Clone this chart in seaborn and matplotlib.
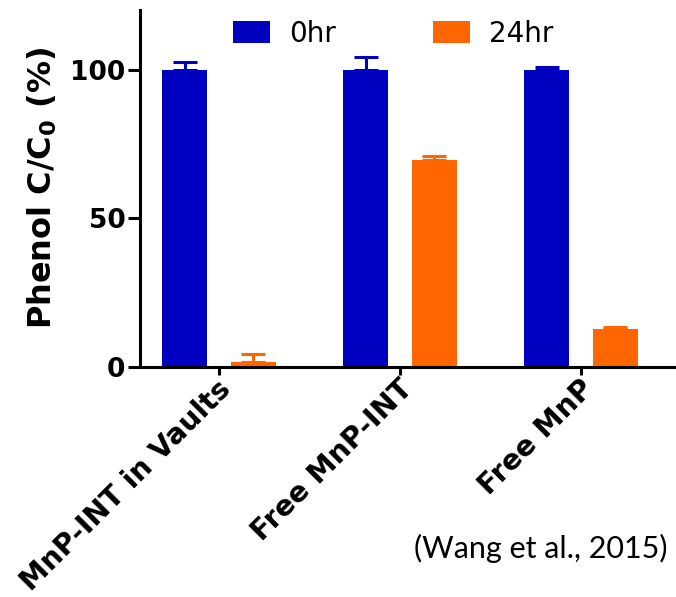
import matplotlib
matplotlib.use("Agg")
import matplotlib.pyplot as plt
import matplotlib.transforms as mtransforms
import seaborn as sns
import pandas as pd
import numpy as np

categories = ["MnP-INT in Vaults", "Free MnP-INT", "Free MnP"]
series_names = ["0hr", "24hr"]
values_0hr = [100.0, 100.0, 100.0]
values_24hr = [1.8, 69.5, 12.7]
err_0hr = [2.4, 4.3, 0.7]
err_24hr = [2.6, 1.3, 0.9]
colors = ["#0000C0", "#FF6600"]
yticks = [0, 50, 100]

sns.set_theme(style="ticks")
plt.rcParams["font.family"] = ["DejaVu Sans"]
plt.rcParams["mathtext.fontset"] = "dejavusans"
plt.rcParams["mathtext.default"] = "bf"
for k in ["text.color", "axes.labelcolor", "xtick.color", "ytick.color", "axes.edgecolor"]:
    plt.rcParams[k] = "black"

df = pd.DataFrame({
    "category": categories * 2,
    "series": [series_names[0]] * 3 + [series_names[1]] * 3,
    "value": values_0hr + values_24hr,
    "err": err_0hr + err_24hr,
})

fig = plt.figure(figsize=(6.76, 5.97), dpi=100)
ax = fig.add_axes([140 / 676, 1 - 367 / 597, 1 - 140 / 676, (367 - 10) / 597])

sns.barplot(data=df, x="category", y="value", hue="series", order=categories,
            hue_order=series_names, palette=colors, saturation=1, width=0.76,
            gap=0.34, errorbar=None, linewidth=0, ax=ax)

# upward-only error bars in series colour
for cont, name, col in zip(ax.containers, series_names, colors):
    sub = df[df["series"] == name].set_index("category").loc[categories]
    xs = [p.get_x() + p.get_width() / 2 for p in cont.patches]
    ys = sub["value"].to_numpy()
    es = sub["err"].to_numpy()
    ax.errorbar(xs, ys, yerr=[np.zeros_like(es), es], fmt="none", ecolor=col,
                elinewidth=2.2, capsize=8.5, capthick=2.2, zorder=1)

ax.set_xlim(-0.436, 2.525)
ax.set_ylim(0, 120)
ax.set_yticks(yticks)
ax.set_yticklabels([str(t) for t in yticks], fontsize=19, fontweight="bold")
ax.set_xlabel("")
ax.set_ylabel(r"Phenol C/C$_0$ (%)", fontsize=23, fontweight="bold", labelpad=8)

sns.despine(ax=ax)
for s in ["left", "bottom"]:
    ax.spines[s].set_linewidth(2.2)
    ax.spines[s].set_color("black")
ax.tick_params(axis="y", length=8.5, width=2.2, color="black", pad=2)
ax.tick_params(axis="x", length=6, width=2.2, color="black", pad=4)

ax.set_xticks(range(len(categories)))
ax.set_xticklabels(categories, rotation=45, ha="right", va="center",
                   rotation_mode="anchor", fontsize=20.5, fontweight="bold")
offset = mtransforms.ScaledTranslation(8 / 100, -4 / 100, fig.dpi_scale_trans)
for lbl in ax.get_xticklabels():
    lbl.set_transform(lbl.get_transform() + offset)

handles, labels = ax.get_legend_handles_labels()
leg = ax.legend(handles, labels, ncol=2, frameon=False, fontsize=20,
                loc="upper left", bbox_to_anchor=(93 / 536, 0.973),
                handlelength=1.32, handleheight=0.82, handletextpad=0.7,
                columnspacing=3.5, borderaxespad=0, borderpad=0)

fig.text(668 / 676, 1 - 548 / 597, "(Wang et al., 2015)", ha="right", va="center",
         fontsize=22, family=["Lato", "DejaVu Sans"])

fig.savefig("out.png", dpi=100)
